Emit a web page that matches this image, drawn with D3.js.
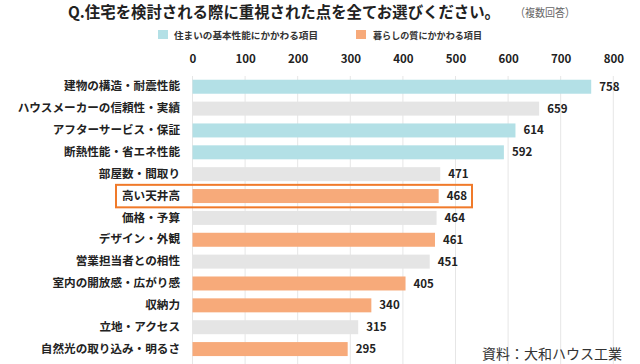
<!DOCTYPE html>
<html><head><meta charset="utf-8">
<script src="https://cdn.jsdelivr.net/npm/d3@7"></script>
<style>
body{margin:0;background:#fff;}
text{font-family:"Noto Sans CJK JP","Noto Sans",sans-serif;}
</style></head><body>
<svg id="c" width="640" height="364"></svg>
<script>
const categories = ["建物の構造・耐震性能","ハウスメーカーの信頼性・実績","アフターサービス・保証","断熱性能・省エネ性能","部屋数・間取り","高い天井高","価格・予算","デザイン・外観","営業担当者との相性","室内の開放感・広がり感","収納力","立地・アクセス","自然光の取り込み・明るさ"];
const values = [758,659,614,592,471,468,464,461,451,405,340,315,295];
const groups = ["basic","other","basic","basic","other","life","other","life","other","life","life","other","life"];
const tickValues = [0,100,200,300,400,500,600,700,800];
const legendLabels = ["住まいの基本性能にかかわる項目","暮らしの質にかかわる項目"];
const highlighted = "高い天井高";

const colors = {basic:"#b3e0e6", life:"#f7aa7a", other:"#e5e5e5"};
const svg = d3.select("#c");

const x = d3.scaleLinear().domain([0,800]).range([192.5,613.3]);
const y = d3.scaleBand().domain(categories).range([75.8,338+22]).paddingInner(0.36).paddingOuter(0.18);

// title
const title = svg.append("text").attr("x",68).attr("y",18)
  .attr("font-size",15.5).attr("font-weight","bold").attr("fill","#222")
  .text("Q.住宅を検討される際に重視された点を全てお選びください。");
if (title.node().getComputedTextLength() > 0) title.attr("textLength", 432).attr("lengthAdjust","spacingAndGlyphs");
svg.append("text").attr("x",515).attr("y",17)
  .attr("font-size",11.5).attr("fill","#666")
  .attr("textLength",60).attr("lengthAdjust","spacingAndGlyphs").text("（複数回答）");

// legend
const lg = [{k:"basic",x:158,tx:174,w:144},{k:"life",x:356,tx:373,w:109}];
lg.forEach((d,i)=>{
  svg.append("rect").attr("x",d.x).attr("y",30).attr("width",10).attr("height",9).attr("fill",colors[d.k]);
  svg.append("text").attr("x",d.tx).attr("y",38.5).attr("font-size",9.5).attr("font-weight","bold").attr("fill","#333")
    .attr("textLength",d.w).attr("lengthAdjust","spacingAndGlyphs").text(legendLabels[i]);
});

// grid
svg.append("g").selectAll("line").data(tickValues).join("line")
  .attr("x1",d=>x(d)).attr("x2",d=>x(d)).attr("y1",76).attr("y2",364)
  .attr("stroke","#e6e6e6").attr("stroke-width",1);

// axis top
const ax = svg.append("g").attr("transform","translate(0,63)")
  .call(d3.axisTop(x).tickValues(tickValues).tickSize(0).tickPadding(0));
ax.select(".domain").remove();
ax.selectAll("text").attr("font-size",11.5).attr("font-weight","bold").attr("fill","#222")
  .attr("font-family","'Noto Sans CJK JP',sans-serif");

// bars
svg.append("g").selectAll("rect").data(categories).join("rect")
  .attr("x",x(0)).attr("y",d=>y(d)).attr("width",(d,i)=>x(values[i])-x(0))
  .attr("height",y.bandwidth()).attr("fill",(d,i)=>colors[groups[i]]);

// category labels
const yl = d3.axisLeft(y).tickSize(0).tickPadding(0);
const gl = svg.append("g").attr("transform","translate(180,0)").call(yl);
gl.select(".domain").remove();
gl.selectAll("text").attr("font-size",11.6).attr("font-weight","bold").attr("fill","#222")
  .attr("font-family","'Noto Sans CJK JP',sans-serif");

// value labels
svg.append("g").selectAll("text").data(categories).join("text")
  .attr("x",(d,i)=>x(values[i])+8).attr("y",d=>y(d)+y.bandwidth()/2).attr("dy","0.35em")
  .attr("font-size",11.5).attr("font-weight","bold").attr("fill","#222")
  .text((d,i)=>values[i]);

// highlight box
const hi = categories.indexOf(highlighted);
svg.append("rect").attr("x",116).attr("y",y(highlighted)-4.2).attr("width",x(values[hi])+(472-x(468))-116)
  .attr("height",y.bandwidth()+8.5).attr("fill","none").attr("stroke","#f07a2a").attr("stroke-width",2);

// source
svg.append("text").attr("x",622).attr("y",359).attr("text-anchor","end")
  .attr("font-size",14).attr("fill","#333").text("資料：大和ハウス工業");
</script></body></html>
